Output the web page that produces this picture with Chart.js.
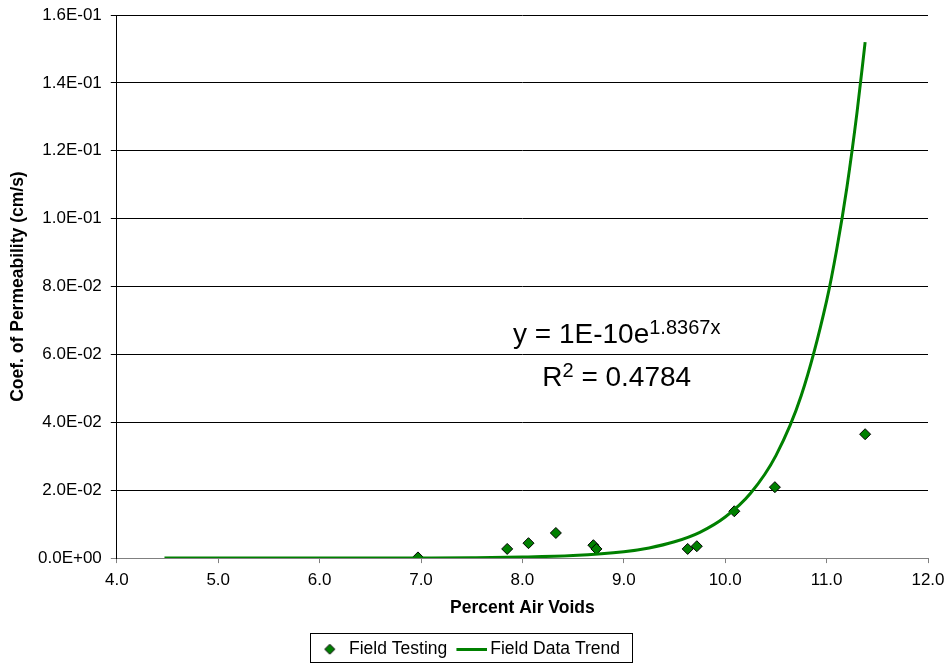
<!DOCTYPE html>
<html>
<head>
<meta charset="utf-8">
<script src="https://cdn.jsdelivr.net/npm/chart.js@4.4.1/dist/chart.umd.min.js"></script>
<style>
  body { margin: 0; background: #fff; }
  canvas { display: block; }
</style>
</head>
<body>
<canvas id="permChart" width="950" height="664"></canvas>
<script>
const airVoids = [6.97, 7.85, 8.06, 8.33, 8.70, 8.73, 9.63, 9.72, 10.09, 10.49, 11.38];
const permeability = [0.0002, 0.0027, 0.0044, 0.0074, 0.0038, 0.0027, 0.0027, 0.0035, 0.0138, 0.0209, 0.0365];

// Trend curve, read at several x positions along the drawn line
const trendX = [4.47, 5.0, 5.5, 6.0, 6.5, 7.0, 7.5, 8.0, 8.5, 9.0, 9.25, 9.5, 9.75, 10.0, 10.25, 10.5, 10.75, 11.0, 11.1, 11.2, 11.3, 11.38];
const trendY = [0.0000005, 0.0000012, 0.0000031, 0.0000078, 0.000019, 0.000049, 0.00012, 0.00031, 0.00077, 0.0019, 0.0030, 0.0048, 0.0076, 0.0121, 0.0191, 0.0302, 0.0479, 0.0758, 0.0910, 0.1092, 0.1313, 0.1520];

const xTicks = [4, 5, 6, 7, 8, 9, 10, 11, 12];
const yTicks = [0, 0.02, 0.04, 0.06, 0.08, 0.10, 0.12, 0.14, 0.16];

const equationLines = ['y = 1E-10e', 'R', ' = 0.4784'];
const equationSup = ['1.8367x', '2'];

const FONT = '"Liberation Sans", Arial, sans-serif';
const GREEN = '#008000';

function sciLabel(v) {
    const parts = Number(v).toExponential(1).split('e');
    const exp = parseInt(parts[1], 10);
    const sign = exp < 0 ? '-' : '+';
    return parts[0] + 'E' + sign + String(Math.abs(exp)).padStart(2, '0');
}

// small canvases used as legend symbols (legend box width 24.25 for both items)
const DIAMOND_SHIFT = 1.6;
function diamondIcon() {
    const c = document.createElement('canvas');
    c.width = 16; c.height = 12;
    const g = c.getContext('2d');
    const cx = 8 + DIAMOND_SHIFT;
    g.beginPath();
    g.moveTo(cx, 1); g.lineTo(cx + 5, 6); g.lineTo(cx, 11); g.lineTo(cx - 5, 6); g.closePath();
    g.fillStyle = GREEN; g.fill();
    g.strokeStyle = '#000'; g.lineWidth = 1; g.stroke();
    return c;
}
function lineIcon() {
    const c = document.createElement('canvas');
    c.width = 36; c.height = 3;
    const g = c.getContext('2d');
    g.fillStyle = GREEN;
    g.fillRect(5, 0, 31, 3);
    return c;
}
const legendIcons = [diamondIcon(), lineIcon()];
const LEGEND_BOX_W = 24.25;

const legendBorder = {
    id: 'legendBorder',
    afterDraw(chart) {
        const boxes = chart.legend && chart.legend.legendHitBoxes;
        if (!boxes || !boxes.length) return;
        const first = boxes[0], last = boxes[boxes.length - 1];
        const mid = first.top + first.height / 2;
        const diamondX = first.left + LEGEND_BOX_W / 2 + DIAMOND_SHIFT;
        const ctx = chart.ctx;
        ctx.save();
        ctx.strokeStyle = '#000';
        ctx.lineWidth = 1;
        const left = Math.round(diamondX - 19.5) + 0.5;
        const right = Math.round(last.left + last.width + 12) + 0.5;
        const top = Math.round(mid - 16) + 0.5;
        const bottom = Math.round(mid + 13) + 0.5;
        ctx.strokeRect(left, top, right - left, bottom - top);
        ctx.restore();
    }
};

const equationText = {
    id: 'equationText',
    afterDatasetsDraw(chart) {
        const xs = chart.scales.x, ys = chart.scales.y;
        const cx = xs.getPixelForValue(8.93);
        const base1 = ys.getPixelForValue(0.0633);
        const base2 = ys.getPixelForValue(0.0507);
        const ctx = chart.ctx;
        ctx.save();
        ctx.fillStyle = '#000';
        ctx.textBaseline = 'alphabetic';
        ctx.textAlign = 'left';
        const big = '28px ' + FONT, small = '20px ' + FONT;

        ctx.font = big;
        const w1 = ctx.measureText(equationLines[0]).width;
        ctx.font = small;
        const s1 = ctx.measureText(equationSup[0]).width;
        let x = cx - (w1 + s1) / 2;
        ctx.font = big;
        ctx.fillText(equationLines[0], x, base1);
        ctx.font = small;
        ctx.fillText(equationSup[0], x + w1, base1 - 9);

        ctx.font = big;
        const wR = ctx.measureText(equationLines[1]).width;
        const wRest = ctx.measureText(equationLines[2]).width;
        ctx.font = small;
        const s2 = ctx.measureText(equationSup[1]).width;
        x = cx - (wR + s2 + wRest) / 2;
        ctx.font = big;
        ctx.fillText(equationLines[1], x, base2);
        ctx.font = small;
        ctx.fillText(equationSup[1], x + wR, base2 - 9);
        ctx.font = big;
        ctx.fillText(equationLines[2], x + wR + s2, base2);
        ctx.restore();
    }
};

const ctx = document.getElementById('permChart').getContext('2d');
const permChart = new Chart(ctx, {
    type: 'scatter',
    data: {
        datasets: [
            {
                label: 'Field Testing',
                data: airVoids.map((v, i) => ({ x: v, y: permeability[i] })),
                pointStyle: 'rectRot',
                pointRadius: 5.5,
                pointHoverRadius: 5.5,
                backgroundColor: GREEN,
                borderColor: '#000',
                borderWidth: 1,
                order: 1
            },
            {
                type: 'line',
                label: 'Field Data Trend',
                data: trendX.map((v, i) => ({ x: v, y: trendY[i] })),
                borderColor: GREEN,
                backgroundColor: GREEN,
                borderWidth: 3,
                pointRadius: 0,
                fill: false,
                cubicInterpolationMode: 'monotone',
                order: 0
            }
        ]
    },
    options: {
        responsive: false,
        animation: false,
        devicePixelRatio: 1,
        layout: {
            padding: { top: 0, right: 22, left: 8, bottom: -4 }
        },
        plugins: {
            tooltip: { enabled: false },
            legend: {
                position: 'bottom',
                labels: {
                    usePointStyle: true,
                    pointStyleWidth: LEGEND_BOX_W,
                    padding: 10,
                    color: '#000',
                    font: { family: FONT, size: 17.5 },
                    generateLabels(chart) {
                        return chart.data.datasets.map((ds, i) => ({
                            text: ds.label,
                            datasetIndex: i,
                            pointStyle: legendIcons[i],
                            fillStyle: GREEN,
                            strokeStyle: GREEN,
                            lineWidth: 0,
                            hidden: false,
                            fontColor: '#000'
                        }));
                    }
                }
            }
        },
        scales: {
            x: {
                type: 'linear',
                min: xTicks[0],
                max: xTicks[xTicks.length - 1],
                afterBuildTicks(scale) { scale.ticks = xTicks.map(v => ({ value: v })); },
                afterFit(scale) { scale.paddingRight = 0; },
                ticks: {
                    color: '#000',
                    font: { family: FONT, size: 17 },
                    padding: 7,
                    callback: v => Number(v).toFixed(1)
                },
                grid: {
                    drawOnChartArea: false,
                    drawTicks: true,
                    tickLength: 5,
                    color: '#808080'
                },
                border: { color: '#808080' },
                title: {
                    display: true,
                    text: 'Percent Air Voids',
                    color: '#000',
                    font: { family: FONT, size: 17.5, weight: 'bold' },
                    padding: { top: 0, bottom: 12 }
                }
            },
            y: {
                min: yTicks[0],
                max: yTicks[yTicks.length - 1],
                afterBuildTicks(scale) { scale.ticks = yTicks.map(v => ({ value: v })); },
                afterFit(scale) { scale.paddingTop = 15; scale.paddingBottom = 10; },
                ticks: {
                    color: '#000',
                    font: { family: FONT, size: 17 },
                    padding: 9,
                    callback: v => sciLabel(v)
                },
                grid: {
                    drawTicks: true,
                    tickLength: 6,
                    color: c => (c.tick && c.tick.value === 0 ? '#808080' : '#000')
                },
                border: { color: '#000' },
                title: {
                    display: true,
                    text: 'Coef. of Permeability (cm/s)',
                    color: '#000',
                    font: { family: FONT, size: 17.5, weight: 'bold' },
                    padding: { top: 0, bottom: 0 }
                }
            }
        }
    },
    plugins: [equationText, legendBorder]
});
</script>
</body>
</html>
